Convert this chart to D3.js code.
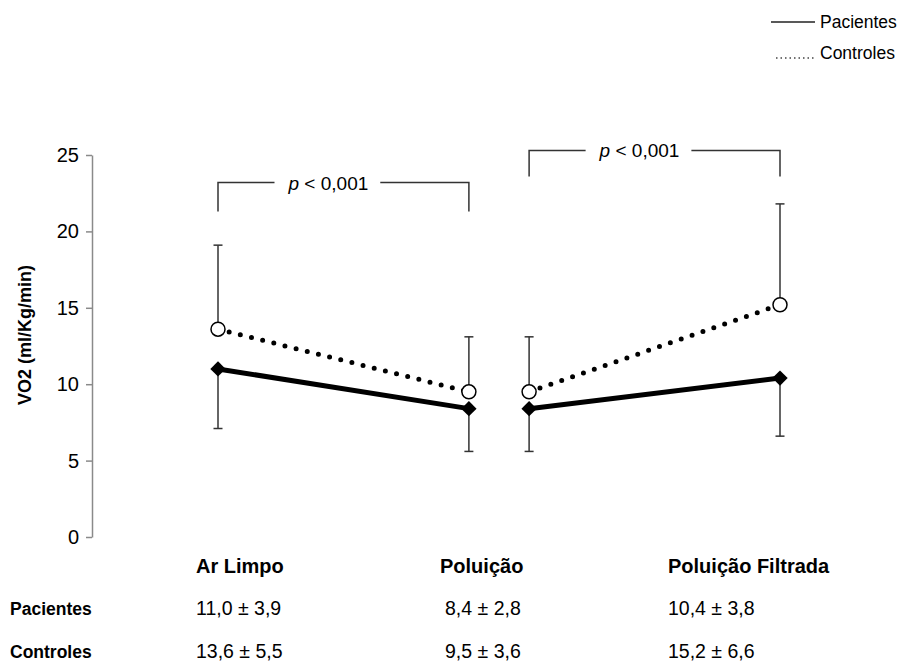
<!DOCTYPE html>
<html>

<head>
    <meta charset="UTF-8">
    <title>VO2 Pacientes x Controles</title>
    <script src="https://d3js.org/d3.v7.min.js"></script>
    <style>
        body {
            margin: 0;
            background: #fff;
        }

        svg text {
            font-family: "Liberation Sans", Arial, Helvetica, sans-serif;
            fill: #000;
        }

        .axis path,
        .axis line {
            fill: none;
            stroke: #8a8a8a;
            stroke-width: 1.5;
        }
    </style>
</head>

<body>
    <div id="chart"></div>
    <script>
        // data
        const categories = ["Ar Limpo", "Poluição", "Poluição Filtrada"];
        const seriesNames = ["Pacientes", "Controles"];
        const pacientesMean = [11.0, 8.4, 10.4];
        const pacientesSD = [3.9, 2.8, 3.8];
        const controlesMean = [13.6, 9.5, 15.2];
        const controlesSD = [5.5, 3.6, 6.6];
        const yTicks = [0, 5, 10, 15, 20, 25];
        // the two comparisons, drawn as separate segments
        const segments = [[0, 1], [1, 2]];
        const pText = "< 0,001";

        const width = 904;
        const height = 665;
        const font = '"Liberation Sans", Arial, Helvetica, sans-serif';

        const svg = d3.select('#chart')
            .append('svg')
            .attr('width', width)
            .attr('height', height);

        // second segment is shifted a bit to the right of the first
        const segShift = 0.24;
        const xScale = d3.scaleLinear()
            .domain([0, 2 + segShift])
            .range([218, 780]);

        const yScale = d3.scaleLinear()
            .domain([0, 25])
            .range([537, 155]);

        const yAxis = d3.axisLeft(yScale)
            .tickValues(yTicks)
            .tickSize(6)
            .tickSizeOuter(0)
            .tickPadding(7);

        const ax = svg.append('g')
            .attr('class', 'axis')
            .attr('transform', 'translate(92, 0)')
            .call(yAxis);
        ax.selectAll('text')
            .attr('font-size', 20)
            .style('font-family', font);

        svg.append('text')
            .attr('transform', 'translate(31, 335) rotate(-90)')
            .attr('text-anchor', 'middle')
            .attr('font-size', 18)
            .attr('font-weight', 'bold')
            .text('VO2 (ml/Kg/min)');

        // build the points for each segment
        const pts = [];
        segments.forEach((seg, si) => {
            seg.forEach(ci => {
                pts.push({
                    seg: si,
                    cat: ci,
                    x: xScale(ci + si * segShift),
                    pm: pacientesMean[ci], ps: pacientesSD[ci],
                    cm: controlesMean[ci], cs: controlesSD[ci]
                });
            });
        });

        // error bars: controles go up, pacientes go down
        const eb = svg.append('g')
            .attr('stroke', '#333')
            .attr('stroke-width', 1.5);
        pts.forEach(p => {
            const yTop = yScale(p.cm + p.cs);
            const yBot = yScale(p.pm - p.ps);
            eb.append('line').attr('x1', p.x).attr('x2', p.x).attr('y1', yScale(p.cm)).attr('y2', yTop);
            eb.append('line').attr('x1', p.x - 4.5).attr('x2', p.x + 4.5).attr('y1', yTop).attr('y2', yTop);
            eb.append('line').attr('x1', p.x).attr('x2', p.x).attr('y1', yScale(p.pm)).attr('y2', yBot);
            eb.append('line').attr('x1', p.x - 4.5).attr('x2', p.x + 4.5).attr('y1', yBot).attr('y2', yBot);
        });

        const linePac = d3.line().x(d => d.x).y(d => yScale(d.pm));
        const lineCtl = d3.line().x(d => d.x).y(d => yScale(d.cm));

        segments.forEach((seg, si) => {
            const segPts = pts.filter(p => p.seg === si);
            svg.append('path')
                .datum(segPts)
                .attr('fill', 'none')
                .attr('stroke', '#000')
                .attr('stroke-width', 5)
                .attr('d', linePac);
            svg.append('path')
                .datum(segPts)
                .attr('fill', 'none')
                .attr('stroke', '#000')
                .attr('stroke-width', 5)
                .attr('stroke-linecap', 'round')
                .attr('stroke-dasharray', '0 11.5')
                .attr('d', lineCtl);
        });

        // markers
        const diamond = d3.symbol(d3.symbolSquare, 118);
        svg.selectAll('.pac')
            .data(pts)
            .join('path')
            .attr('class', 'pac')
            .attr('transform', d => 'translate(' + d.x + ',' + yScale(d.pm) + ') rotate(45)')
            .attr('d', diamond)
            .attr('fill', '#000');

        svg.selectAll('.ctl')
            .data(pts)
            .join('circle')
            .attr('class', 'ctl')
            .attr('cx', d => d.x)
            .attr('cy', d => yScale(d.cm))
            .attr('r', 7)
            .attr('fill', '#fff')
            .attr('stroke', '#000')
            .attr('stroke-width', 1.5);

        // significance brackets
        const brackets = [
            { seg: 0, top: 23.2, bottom: 21.3 },
            { seg: 1, top: 25.3, bottom: 23.6 }
        ];
        brackets.forEach(b => {
            const segPts = pts.filter(p => p.seg === b.seg);
            const x0 = segPts[0].x;
            const x1 = segPts[1].x;
            const yT = yScale(b.top);
            const yB = yScale(b.bottom);
            const tx = x0 + (x1 - x0) * 0.44;
            const t = svg.append('text')
                .attr('x', tx)
                .attr('y', yT + 7)
                .attr('text-anchor', 'middle')
                .attr('font-size', 19);
            t.append('tspan').attr('font-style', 'italic').text('p');
            t.append('tspan').text(' ' + pText);
            const bb = t.node().getBBox();
            const g = svg.append('g')
                .attr('fill', 'none')
                .attr('stroke', '#333')
                .attr('stroke-width', 1.5);
            g.append('path')
                .attr('d', 'M' + x0 + ',' + yB + 'V' + yT + 'H' + (bb.x - 13));
            g.append('path')
                .attr('d', 'M' + (bb.x + bb.width + 12) + ',' + yT + 'H' + x1 + 'V' + yB);
        });

        // legend top right
        const legend = svg.append('g');
        legend.append('line')
            .attr('x1', 771).attr('x2', 815).attr('y1', 22).attr('y2', 22)
            .attr('stroke', '#222').attr('stroke-width', 1.6);
        legend.append('line')
            .attr('x1', 776).attr('x2', 815).attr('y1', 58).attr('y2', 58)
            .attr('stroke', '#444').attr('stroke-width', 1.5)
            .attr('stroke-dasharray', '1.5 3');
        legend.selectAll('.lg')
            .data(seriesNames)
            .join('text')
            .attr('class', 'lg')
            .attr('x', 820)
            .attr('y', (d, i) => 28 + i * 31)
            .attr('font-size', 17.5)
            .text(d => d);

        // table below the plot
        const fmt = v => v.toFixed(1).replace('.', ',');
        const colCat = [196, 440, 668];
        const colVal = [196, 445, 668];
        svg.selectAll('.cat')
            .data(categories)
            .join('text')
            .attr('class', 'cat')
            .attr('x', (d, i) => colCat[i])
            .attr('y', 573)
            .attr('font-size', 20)
            .attr('font-weight', 'bold')
            .text(d => d);

        const rows = [
            { name: seriesNames[0], mean: pacientesMean, sd: pacientesSD, y: 615 },
            { name: seriesNames[1], mean: controlesMean, sd: controlesSD, y: 658 }
        ];
        rows.forEach(r => {
            svg.append('text')
                .attr('x', 10)
                .attr('y', r.y)
                .attr('font-size', 17.5)
                .attr('font-weight', 'bold')
                .text(r.name);
            svg.selectAll(null)
                .data(r.mean)
                .join('text')
                .attr('x', (d, i) => colVal[i])
                .attr('y', r.y)
                .attr('font-size', 19.5)
                .text((d, i) => fmt(d) + ' ± ' + fmt(r.sd[i]));
        });
    </script>
</body>

</html>
